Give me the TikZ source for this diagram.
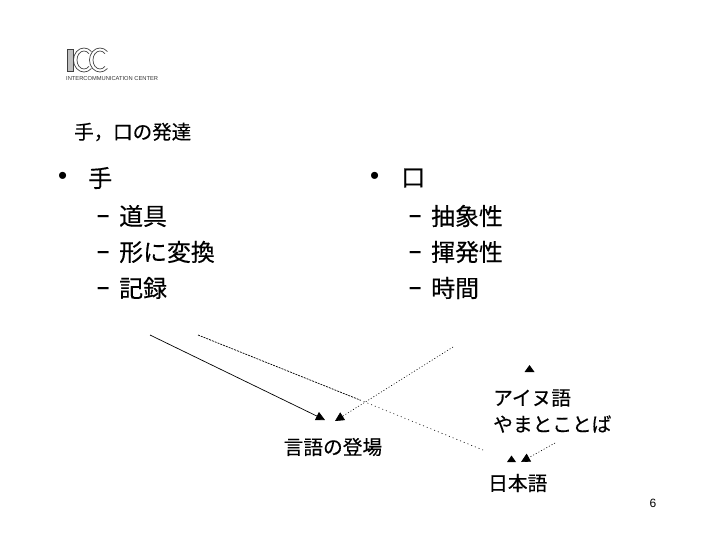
\documentclass[tikz,border=0pt]{standalone}
\usepackage{fontspec}
\setmainfont{Liberation Sans}
\newfontfamily\cjk[FakeBold=0.35]{Noto Sans CJK JP}
\usetikzlibrary{arrows.meta}
\tikzset{
  x=1pt,y=-1pt,
  title/.style={font=\cjk\fontsize{19.5}{20}\selectfont,anchor=west,inner sep=0pt},
  head/.style={font=\cjk\fontsize{24}{24}\selectfont,anchor=west,inner sep=0pt},
  item/.style={font=\cjk\fontsize{23.9}{24}\selectfont,anchor=west,inner sep=0pt},
  lab/.style={font=\cjk\fontsize{19.7}{20}\selectfont,anchor=west,inner sep=0pt},
  bul/.style={anchor=west,inner sep=0pt,font=\fontsize{26}{26}\selectfont},
  dashmark/.style={anchor=west,inner sep=0pt,font=\bfseries\fontsize{22}{22}\selectfont},
  tip/.style={-{Triangle[length=9pt,width=9pt]}},
  solidc/.style={tip,line width=0.7pt},
  dotc/.style={tip,line width=0.6pt,dash pattern=on 1pt off 2pt},
  logoline/.style={draw=black!75,line width=0.7pt}
}
\begin{document}
\begin{tikzpicture}
\useasboundingbox (0,0) rectangle (719,539);
\fill[white] (0,0) rectangle (719,539);
% logo
\draw[logoline,fill=black!25] (67,49) rectangle (73,71);
\foreach \c in {84,100}{
  \draw[logoline] (\c,60) +(45:10.5 and 12) arc[start angle=45,end angle=315,x radius=10.5,y radius=12];
  \draw[logoline] (\c,60) +(45:7 and 9) arc[start angle=45,end angle=315,x radius=7,y radius=9];
}
\node[inner sep=0pt,anchor=west,text=black!80,font=\fontsize{5.75}{6}\selectfont] (logotext) at (66,79) {INTERCOMMUNICATION CENTER};
% text
\node[title] (t) at (74,132) {手，口の発達};
\node[bul] (b1) at (58,178) {•};
\node[head] (h1) at (88,178) {手};
\node[bul] (b2) at (370,178) {•};
\node[head] (h2) at (401,178) {口};
\foreach \n/\y/\s in {a/216/道具,b/252/形に変換,c/288/記録}{
  \node[dashmark] (d\n) at (97,\y+2.5) {–};
  \node[item] (i\n) at (119,\y) {\s};
}
\foreach \n/\y/\s in {a/216/抽象性,b/252/揮発性,c/288/時間}{
  \node[dashmark] (e\n) at (409,\y+2.5) {–};
  \node[item] (j\n) at (431,\y) {\s};
}
\node[lab] (gengo) at (283.5,447) {言語の登場};
\node[lab] (ainu) at (493,398) {アイヌ語};
\node[lab] (yamato) at (493,424) {やまとことば};
\node[lab] (nihon) at (488,483) {日本語};
\node[inner sep=0pt,font=\fontsize{12}{12}\selectfont] (page) at (653,503) {6};
% connectors
\coordinate (s1) at (150,335);
\coordinate (e1) at (325,420);
\coordinate (s2) at (198,335);
\coordinate (m2) at (360,400);
\coordinate (e2) at (483,450);
\coordinate (s3) at (453,347);
\coordinate (e3) at (335,421);
\coordinate (s4) at (555,443);
\coordinate (e4) at (521,462);
\coordinate (s5) at (529.5,365);
\draw[solidc] (s1) -- (e1);
\draw[line width=0.7pt,dash pattern=on 2pt off 1pt] (s2) -- (m2);
\draw[line width=0.6pt,dash pattern=on 1pt off 3pt] (m2) -- (e2);
\fill (511.5,455.5) -- (516,462) -- (507,462) -- cycle;
\draw[dotc] (s3) -- (e3);
\draw[dotc] (s4) -- (e4);
\fill (s5) -- (534.5,372) -- (524.5,372) -- cycle;
\end{tikzpicture}
\end{document}
